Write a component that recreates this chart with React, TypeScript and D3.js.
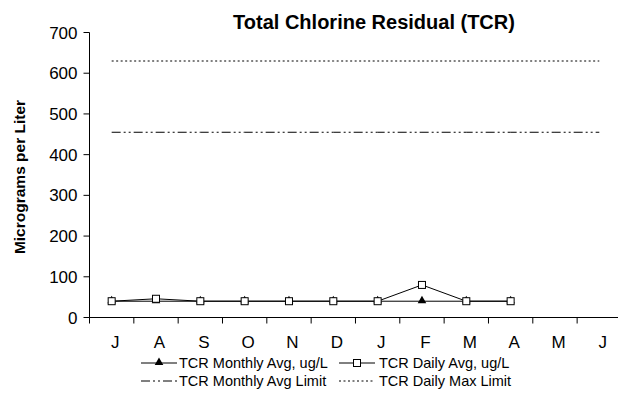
import React from "react";
import * as d3 from "d3";

const months = ["J", "A", "S", "O", "N", "D", "J", "F", "M", "A", "M", "J"];
const monthlyAvg: (number | null)[] = [40, 40, 40, 40, 40, 40, 40, 40, 40, 40, null, null];
const dailyAvg: (number | null)[] = [40, 46, 40, 40, 40, 40, 40, 80, 40, 40, null, null];
const monthlyLimit: number[] = [455, 455, 455, 455, 455, 455, 455, 455, 455, 455, 455, 455];
const dailyMaxLimit: number[] = [630, 630, 630, 630, 630, 630, 630, 630, 630, 630, 630, 630];
const yTicks = [0, 100, 200, 300, 400, 500, 600, 700];

const W = 618, H = 401;
const FONT = "Arial, 'Liberation Sans', sans-serif";

export default function App() {
  const x0 = 89.5, x1 = 89.5 + 44.33 * 12;
  const idx = months.map((_, i) => i);
  const x = d3.scaleBand<number>().domain(idx).range([x0, x1]);
  const cx = (i: number) => (x(i) as number) + x.bandwidth() / 2;
  const y = d3.scaleLinear().domain([0, 700]).range([317.5, 32.5]);

  const line = d3
    .line<number | null>()
    .defined((d) => d != null)
    .x((_, i) => cx(i))
    .y((d) => y(d as number));

  const tri = d3.symbol().type(d3.symbolTriangle).size(32)();

  return (
    <div style={{ position: "absolute", left: 0, top: 0 }}>
      <svg width={W} height={H} style={{ display: "block", background: "#fff" }}>
        <text x={374} y={29} textAnchor="middle" fontFamily={FONT} fontWeight="bold" fontSize={20}>
          Total Chlorine Residual (TCR)
        </text>
        <text
          transform={`translate(25,${177}) rotate(-90)`}
          textAnchor="middle"
          fontFamily={FONT}
          fontWeight="bold"
          fontSize={15.5}
        >
          Micrograms per Liter
        </text>
        {/* y axis */}
        <line x1={x0} x2={x0} y1={y(700)} y2={y(0)} stroke="#000" />
        {yTicks.map((t) => (
          <g key={t}>
            <line x1={x0 - 6} x2={x0} y1={y(t)} y2={y(t)} stroke="#000" />
            <text x={x0 - 12} y={y(t) + 6} textAnchor="end" fontFamily={FONT} fontSize={17}>
              {t}
            </text>
          </g>
        ))}
        {/* x axis */}
        <line x1={x0} x2={x1} y1={y(0)} y2={y(0)} stroke="#000" />
        {d3.range(13).map((i) => {
          const xx = i < 12 ? (x(i) as number) : x1;
          return <line key={i} x1={xx} x2={xx} y1={y(0)} y2={y(0) + 6} stroke="#000" />;
        })}
        {months.map((m, i) => (
          <text key={i} x={cx(i) + 3.5} y={348} textAnchor="middle" fontFamily={FONT} fontSize={17}>
            {m}
          </text>
        ))}
        {/* limits */}
        <path d={line(dailyMaxLimit) || ""} fill="none" stroke="#000" strokeDasharray="2,2.5" />
        <path d={line(monthlyLimit) || ""} fill="none" stroke="#000" strokeDasharray="9,3,2,3,2,3" />
        {/* monthly avg */}
        <path d={line(monthlyAvg) || ""} fill="none" stroke="#000" />
        {monthlyAvg.map((v, i) =>
          v == null ? null : (
            <path key={i} d={tri || ""} transform={`translate(${cx(i)},${y(v) - 0.5})`} fill="#000" />
          )
        )}
        {/* daily avg */}
        <path d={line(dailyAvg) || ""} fill="none" stroke="#000" />
        {dailyAvg.map((v, i) =>
          v == null ? null : (
            <rect key={i} x={cx(i) - 3.5} y={y(v) - 3.5} width={7} height={7} fill="#fff" stroke="#000" />
          )
        )}
        {/* legend */}
        <g fontFamily={FONT} fontSize={14.5}>
          <line x1={141} x2={177} y1={363} y2={363} stroke="#000" />
          <path d={tri || ""} transform={`translate(159,362.5)`} fill="#000" />
          <text x={179} y={368}>TCR Monthly Avg, ug/L</text>
          <line x1={339} x2={375} y1={363} y2={363} stroke="#000" />
          <rect x={353.5} y={359.5} width={7} height={7} fill="#fff" stroke="#000" />
          <text x={379} y={368}>TCR Daily Avg, ug/L</text>
          <line x1={141} x2={177} y1={381} y2={381} stroke="#000" strokeDasharray="9,3,2,3,2,3" />
          <text x={179} y={386}>TCR Monthly Avg Limit</text>
          <line x1={339} x2={375} y1={381} y2={381} stroke="#000" strokeDasharray="2,2.5" />
          <text x={379} y={386}>TCR Daily Max Limit</text>
        </g>
      </svg>
    </div>
  );
}
